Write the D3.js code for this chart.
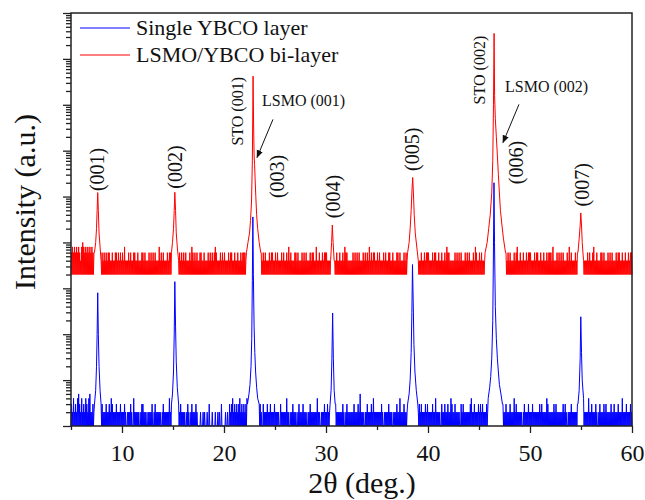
<!DOCTYPE html>
<html>
<head>
<meta charset="utf-8">
<script src="https://cdn.jsdelivr.net/npm/d3@7/dist/d3.min.js"></script>
<style>
  body { margin: 0; background: #fff; }
  text { font-family: "Liberation Serif", "Times New Roman", serif; fill: #111; }
</style>
</head>
<body>
<svg id="chart" width="645" height="500"></svg>
<script>
// ---- data ----
const X_START = 5, X_STEP = 0.05;
const RED_OFFSET = 2000; // bi-layer curve shifted up for display

// baseline counts, one digit per 0.05 deg (groups of 10, one string per 2.5 deg)
const blueNoise = [
  "1312141213 1214151312 1412131214 1312141512 1213121413",
  "1213121412 1312121213 1212131214 1312121213 1212121312",
  "1212131211 1212121312 1114121212 1212111213 1312121211",
  "1212121213 1112131212 1212121112 1312121212 1214121211",
  "1213121412 1212131212 1212111213 1211121312 1212131211",
  "1111211112 1121111211 1311111211 1112111121 1211131111",
  "1112111211 1312131412 1312131213 1412131213 1213141213",
  "1213121213 1214121312 1312111312 1212131212 1312121213",
  "1212121211 1312121212 1214121211 1212131212 1211121312",
  "1212131212 1211121213 1212121212 1214121211 1212121312",
  "1213121212 1212111213 1212121212 1213121112 1312121212",
  "1212131212 1213121512 1212111212 1312121213 1214121212",
  "1212121213 1211121212 1213121212 1112121213 1212141212",
  "1213121212 1312121213 1212131212 1213121312 1212131213",
  "1212121213 1212141212 1212111312 1213121213 1212141312",
  "1213121212 1211131213 1212121212 1213141212 1312121213",
  "1213121312 1212131212 1312121213 1212131212 1312121312",
  "1213121212 1312121214 1213121212 1212111213 1212121312",
  "1212131212 1212121213 1213121212 1214131212 1212121312",
  "1312121212 1212131213 1211121212 1312121212 1213121212",
  "1213121212 1212141212 1312121213 1211121312 1212131213",
  "1212121213 1212131212 1213121212 1412121213 1212121312",
  "1"
];
const redNoise = [
  "1314131413 1413141312 1415141314 1314131413 1413131412",
  "1413121312 1312131213 1213131212 1312121313 1213121312",
  "1312141212 1213121312 1213131212 1312121213 1312131212",
  "1213121312 1312131212 1214121312 1312121213 1213131212",
  "1312121313 1213121312 1312131212 1213121413 1213121312",
  "1213131212 1312121213 1213121312 1314131212 1213121312",
  "1312121213 1213131212 1312121312 1213121313 1312121212",
  "1213121312 1312141212 1213121312 1312121213 1213131212",
  "1312131212 1213121312 1213121412 1312121213 1312131212",
  "1213121312 1312121213 1213131212 1412121312 1213121313",
  "1312121213 1213131212 1312121312 1213121413 1312121212",
  "1213121312 1312131212 1213121312 1312141213 1213131212",
  "1312131212 1213121312 1213131212 1312121213 1312131212",
  "1213121312 1312121213 1214131212 1312121312 1213121313",
  "1312121213 1213131212 1312121312 1213121413 1312121212",
  "1213121312 1312131212 1213121312 1312121213 1214131212",
  "1312131212 1213121312 1213131212 1312121213 1312131212",
  "1213121312 1312121213 1213141212 1312121312 1213121313",
  "1312121213 1213131212 1312121312 1213121313 1312141212",
  "1213121312 1312131212 1213121412 1312121213 1213131212",
  "1312131212 1213121312 1213141212 1312121213 1312131212",
  "1213121312 1312121213 1213131212 1312121312 1213121313",
  "1"
];

// peak profiles [2theta, counts]
const bluePeaks = [
  [[7.3,3],[7.42,6],[7.5,20],[7.56,100],[7.62,800],[7.68,100],[7.75,20],[7.85,6],[7.95,3]],
  [[14.85,3],[14.95,5],[15.05,15],[15.12,100],[15.18,1400],[15.25,150],[15.32,25],[15.42,7],[15.55,3]],
  [[22.3,3],[22.45,5],[22.55,8],[22.65,20],[22.72,80],[22.78,1500],[22.83,36000],[22.88,2000],[22.95,150],[23.02,40],[23.1,15],[23.2,7],[23.3,4],[23.45,3]],
  [[30.4,3],[30.5,6],[30.58,30],[30.65,290],[30.72,30],[30.8,6],[30.9,3]],
  [[38.0,3],[38.15,5],[38.25,10],[38.35,40],[38.42,300],[38.48,3300],[38.55,500],[38.62,60],[38.72,15],[38.85,6],[39.0,3]],
  [[45.9,4],[46.05,7],[46.15,12],[46.25,30],[46.35,200],[46.42,8000],[46.47,200000],[46.52,10000],[46.6,400],[46.7,80],[46.8,30],[46.9,15],[47.0,8],[47.15,5],[47.3,3]],
  [[54.7,3],[54.82,6],[54.92,30],[54.98,240],[55.05,40],[55.12,10],[55.25,4]]
];
const redPeaks = [
  [[7.3,3],[7.42,5],[7.5,10],[7.56,25],[7.62,61],[7.68,25],[7.75,8],[7.85,4],[7.95,2]],
  [[14.85,3],[14.95,5],[15.05,10],[15.12,25],[15.18,62],[15.25,25],[15.32,8],[15.42,4],[15.55,2]],
  [[22.2,3],[22.35,5],[22.5,8],[22.6,15],[22.7,40],[22.78,300],[22.85,21000],[22.9,2000],[22.95,400],[23.0,250],[23.05,120],[23.12,50],[23.2,20],[23.3,10],[23.45,5],[23.6,3]],
  [[30.45,2],[30.55,5],[30.62,12],[30.7,5],[30.8,2]],
  [[38.0,3],[38.15,5],[38.25,10],[38.35,25],[38.43,70],[38.5,130],[38.57,60],[38.65,20],[38.75,8],[38.9,4],[39.05,2]],
  [[45.6,3],[45.8,5],[45.95,10],[46.1,20],[46.25,60],[46.35,300],[46.42,5000],[46.48,180000],[46.53,8000],[46.6,2500],[46.7,1000],[46.8,400],[46.9,150],[47.0,60],[47.1,25],[47.25,12],[47.4,6],[47.6,3]],
  [[54.7,3],[54.82,6],[54.92,12],[54.98,22],[55.05,12],[55.12,5],[55.25,2]]
];

const xMajor = [10, 20, 30, 40, 50, 60];
const xMinor = [5, 15, 25, 35, 45, 55];

// peak labels: [text, 2theta, intensity, vertical?]
const peakLabels = [
  ["(001)", 7.55, 3.9e5, true],
  ["(002)", 15.2, 4.4e5, true],
  ["STO (001)", 21.27, 7.2e6, true],
  ["(003)", 25.2, 2.75e5, true],
  ["(004)", 30.69, 1e5, true],
  ["(005)", 38.43, 1.07e6, true],
  ["STO (002)", 45.05, 5.7e7, true],
  ["(006)", 48.63, 5.5e5, true],
  ["(007)", 55.1, 1.8e5, true],
  ["LSMO (001)", 23.73, 9.3e6, false],
  ["LSMO (002)", 47.55, 1.9e7, false]
];
// arrows: [from 2theta, from I, to 2theta, to I]
const arrows = [
  [24.8, 4.8e6, 23.24, 7.1e5],
  [48.92, 1.02e7, 47.35, 1.5e6]
];

const legendItems = [
  ["Single YBCO layer", "#0000ff"],
  ["LSMO/YBCO bi-layer", "#ff0000"]
];

// ---- layout ----
const MARGIN = { LEFT: 71, TOP: 13, RIGHT: 13, BOTTOM: 74 };
const W = 645, H = 500;

const svg = d3.select("#chart");

const x = d3.scaleLinear().domain([5, 60]).range([MARGIN.LEFT, W - MARGIN.RIGHT]);
const y = d3.scaleLog().domain([1, 1e9]).range([H - MARGIN.BOTTOM, MARGIN.TOP]);

function buildSeries(noise, peaks, factor) {
  const digits = noise.join("").replace(/\s/g, "");
  const pts = [];
  for (let i = 0; i < digits.length; i++) {
    const xv = +(X_START + i * X_STEP).toFixed(2);
    const inPeak = peaks.some(p => xv >= p[0][0] - 1e-6 && xv <= p[p.length - 1][0] + 1e-6);
    if (!inPeak) pts.push([xv, +digits[i] * factor]);
  }
  peaks.forEach(p => p.forEach(d => pts.push([d[0], d[1] * factor])));
  return pts.sort((a, b) => a[0] - b[0]);
}

const blueData = buildSeries(blueNoise, bluePeaks, 1);
const redData = buildSeries(redNoise, redPeaks, RED_OFFSET);

const line = d3.line().x(d => x(d[0])).y(d => y(d[1]));

// red first, blue on top
svg.append("path").datum(redData)
  .attr("d", line).attr("fill", "none").attr("stroke", "#ff0000").attr("stroke-width", 1);
svg.append("path").datum(blueData)
  .attr("d", line).attr("fill", "none").attr("stroke", "#0000ff").attr("stroke-width", 1);

// axes
const decades = d3.range(0, 10).map(k => Math.pow(10, k));
const minorY = [];
decades.slice(0, 9).forEach(d => { for (let m = 2; m <= 9; m++) minorY.push(d * m); });

svg.append("g").attr("transform", `translate(${MARGIN.LEFT},0)`)
  .call(d3.axisLeft(y).tickValues(decades).tickSize(8).tickFormat(""))
  .call(g => g.select(".domain").remove());
svg.append("g").attr("transform", `translate(${MARGIN.LEFT},0)`)
  .call(d3.axisLeft(y).tickValues(minorY).tickSize(5).tickFormat(""))
  .call(g => g.select(".domain").remove());

const xAxis = svg.append("g").attr("transform", `translate(0,${H - MARGIN.BOTTOM})`)
  .call(d3.axisBottom(x).tickValues(xMajor).tickSize(7).tickFormat(d3.format("d")))
  .call(g => g.select(".domain").remove());
xAxis.selectAll("text").attr("y", 35).attr("dy", null)
  .style("font-size", "24px").attr("fill", "#111");
svg.append("g").attr("transform", `translate(0,${H - MARGIN.BOTTOM})`)
  .call(d3.axisBottom(x).tickValues(xMinor).tickSize(4).tickFormat(""))
  .call(g => g.select(".domain").remove());
svg.selectAll(".tick line").attr("stroke", "#222").attr("stroke-width", 1.3);

// frame
svg.append("rect")
  .attr("x", MARGIN.LEFT).attr("y", MARGIN.TOP)
  .attr("width", W - MARGIN.LEFT - MARGIN.RIGHT)
  .attr("height", H - MARGIN.TOP - MARGIN.BOTTOM)
  .attr("fill", "none").attr("stroke", "#222").attr("stroke-width", 1.5);

// axis titles
svg.append("text")
  .attr("transform", "translate(35,202) rotate(-90)")
  .attr("text-anchor", "middle").style("font-size", "30px")
  .text("Intensity (a.u.)");
svg.append("text")
  .attr("x", 362).attr("y", 493)
  .attr("text-anchor", "middle").style("font-size", "30px")
  .text("2θ (deg.)");

// peak labels
svg.selectAll(".plabel").data(peakLabels).join("text")
  .attr("class", "plabel")
  .attr("transform", d => d[3]
    ? `translate(${x(d[1])},${y(d[2])}) rotate(-90)`
    : `translate(${x(d[1])},${y(d[2])})`)
  .attr("text-anchor", d => d[3] ? "middle" : "start")
  .attr("dy", d => d[3] ? "0.35em" : null)
  .style("font-size", d => d[0].length > 5 ? "16px" : "20px")
  .text(d => d[0]);

// arrows
svg.append("defs").append("marker")
  .attr("id", "head").attr("viewBox", "0 0 10 10")
  .attr("refX", 9).attr("refY", 5)
  .attr("markerWidth", 8).attr("markerHeight", 8)
  .attr("orient", "auto")
  .append("path").attr("d", "M0,1 L10,5 L0,9 Z").attr("fill", "#111");
svg.selectAll(".arrow").data(arrows).join("line")
  .attr("class", "arrow")
  .attr("x1", d => x(d[0])).attr("y1", d => y(d[1]))
  .attr("x2", d => x(d[2])).attr("y2", d => y(d[3]))
  .attr("stroke", "#111").attr("stroke-width", 1)
  .attr("marker-end", "url(#head)");

// legend
const leg = svg.append("g").attr("transform", "translate(80,28)");
legendItems.forEach((d, i) => {
  const g = leg.append("g").attr("transform", `translate(0,${i * 27})`);
  g.append("line").attr("x1", 0).attr("x2", 50).attr("stroke", d[1]).attr("stroke-width", 1.2);
  g.append("text").attr("x", 56).attr("y", 7).style("font-size", "22px").text(d[0]);
});
</script>
</body>
</html>
